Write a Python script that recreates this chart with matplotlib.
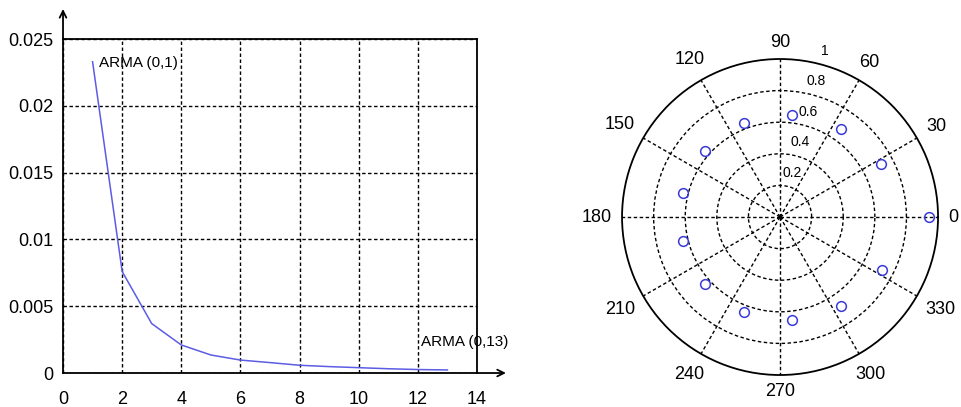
import numpy as np
import matplotlib
matplotlib.use("Agg")
import matplotlib.pyplot as plt

plt.rcParams['font.family'] = ['Liberation Sans', 'DejaVu Sans']

# left panel: error vs model order
orden = [1, 2, 3, 4, 5, 6, 7, 8, 9, 10, 11, 12, 13]
error = [0.0233, 0.0076, 0.0037, 0.0021, 0.00135, 0.00097, 0.00078,
         0.00058, 0.00048, 0.00040, 0.00032, 0.00026, 0.00023]
xticks = [0, 2, 4, 6, 8, 10, 12, 14]
yticks = [0, 0.005, 0.01, 0.015, 0.02, 0.025]
yticklabels = ['0', '0.005', '0.01', '0.015', '0.02', '0.025']

# right panel: root locations
angulos = [0, 27.7, 55.4, 83.1, 110.8, 138.5, 166.2,
           193.8, 221.5, 249.2, 276.9, 304.6, 332.3]
radios = [0.94, 0.725, 0.68, 0.65, 0.635, 0.632, 0.63,
          0.63, 0.636, 0.645, 0.656, 0.683, 0.728]
anillos = [0.2, 0.4, 0.6, 0.8, 1.0]
anillo_labels = ['0.2', '0.4', '0.6', '0.8', '1']
theta_ticks = [0, 30, 60, 90, 120, 150, 180, 210, 240, 270, 300, 330]

AZUL_LINEA = '#5c5ce4'
AZUL_PUNTO = '#3a3ad8'
GRID = dict(color='black', linestyle=(0, (2.5, 1.8)), linewidth=1.0)

fig = plt.figure(figsize=(9.62, 4.07), dpi=100)

# ---------- left ----------
ax = fig.add_axes([0.0655, 0.0835, 0.4303, 0.8205])
ax.plot(orden, error, color=AZUL_LINEA, linewidth=1.1)
ax.set_xlim(0, 14)
ax.set_ylim(0, 0.025)
ax.set_xticks(xticks)
ax.set_yticks(yticks)
ax.set_yticklabels(yticklabels)
ax.tick_params(axis='both', length=0, labelsize=13)
ax.tick_params(axis='x', pad=13)
ax.tick_params(axis='y', pad=7)
ax.grid(True, **GRID)
for s in ax.spines.values():
    s.set_linewidth(1.3)
    s.set_color('black')

ax.text(1.22, 0.0232, 'ARMA (0,1)', fontsize=11, va='center', ha='left')
ax.text(12.1, 0.0023, 'ARMA (0,13)', fontsize=11, va='center', ha='left')

# flechas de los ejes
flecha = dict(arrowstyle='->', lw=1.3, color='black',
              mutation_scale=12, shrinkA=0, shrinkB=0)
ax.annotate('', xy=(0, 1.09), xytext=(0, 1.0), xycoords='axes fraction',
            arrowprops=flecha, annotation_clip=False)
ax.annotate('', xy=(1.07, 0), xytext=(1.0, 0), xycoords='axes fraction',
            arrowprops=flecha, annotation_clip=False)

# ---------- right ----------
pax = fig.add_axes([0.6466, 0.0786, 0.3285, 0.7764], projection='polar')
pax.plot(np.deg2rad(angulos), radios, 'o', mfc='none', mec=AZUL_PUNTO,
         ms=7, mew=1.1, linestyle='none')
pax.set_ylim(0, 1)
pax.set_rgrids(anillos[:-1], labels=[''] * (len(anillos) - 1))
pax.set_thetagrids(theta_ticks, labels=[''] * len(theta_ticks))
pax.grid(True, **GRID)
pax.spines['polar'].set_linewidth(1.3)
pax.spines['polar'].set_color('black')

# etiquetas angulares: centro a una distancia que depende del tamano del texto
for t in theta_ticks:
    lab = str(t)
    a = np.deg2rad(t)
    medio_ancho = len(lab) * 0.032
    medio_alto = 0.041
    r = 1.065 + medio_ancho * abs(np.cos(a)) + medio_alto * abs(np.sin(a))
    pax.text(a, r, lab, fontsize=13, ha='center', va='center',
             clip_on=False)

for r, lab in zip(anillos, anillo_labels):
    pax.text(np.deg2rad(75), r + 0.09, lab, fontsize=10,
             ha='center', va='center', clip_on=False)

fig.savefig('out.png', dpi=100)
